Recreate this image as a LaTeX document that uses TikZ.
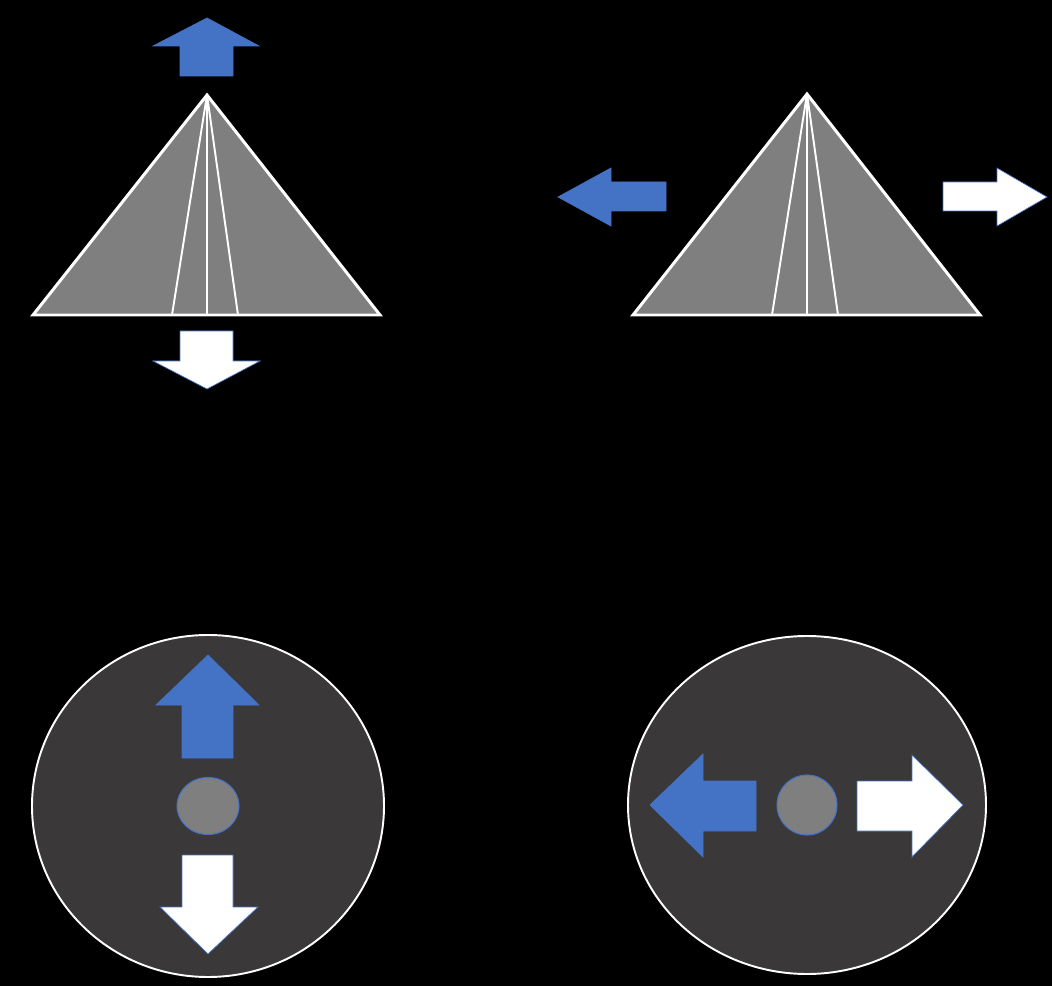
\documentclass[tikz,border=0pt]{standalone}
\usepackage{tikz}
\usepackage{xcolor}
\usetikzlibrary{positioning, calc}
\definecolor{officeblue}{HTML}{4472C4}
\definecolor{midgray}{HTML}{7F7F7F}
\definecolor{darkdisc}{HTML}{3A3838}
\tikzstyle{pyramid} = [draw=white, fill=midgray, line width=1.7pt, line join=miter]
\tikzstyle{ridge} = [draw=white, line width=1.1pt]
\tikzstyle{bluearrow} = [fill=officeblue, draw=officeblue, line width=0.4pt]
\tikzstyle{whitearrow} = [fill=white, draw=officeblue, line width=0.4pt]
\tikzstyle{disc} = [draw=white, fill=darkdisc, line width=1.1pt]
\tikzstyle{hub} = [draw=officeblue, fill=midgray, line width=0.6pt]

\begin{document}
\begin{tikzpicture}[x=0.02cm, y=-0.02cm]
    \useasboundingbox (0,0) rectangle (1052,986);
    \fill[black] (0,0) rectangle (1052,986);

    % pyramid, up/down
    \coordinate (apexA) at (207,95);
    \draw[pyramid] (apexA) -- (380,315) -- (33,315) -- cycle;
    \draw[ridge] (apexA) -- (172,315);
    \draw[ridge] (apexA) -- (207,315);
    \draw[ridge] (apexA) -- (238,315);
    \draw[bluearrow] (207,18) -- (259,46) -- (233,46) -- (233,76) -- (180,76) -- (180,46) -- (153,46) -- cycle;
    \draw[whitearrow] (180,331) -- (233,331) -- (233,361) -- (260,361) -- (207,389) -- (153,361) -- (180,361) -- cycle;

    % pyramid, left/right
    \coordinate (apexB) at (807,94);
    \draw[pyramid] (apexB) -- (980,315) -- (633,315) -- cycle;
    \draw[ridge] (apexB) -- (772,315);
    \draw[ridge] (apexB) -- (807,315);
    \draw[ridge] (apexB) -- (838,315);
    \draw[bluearrow] (558,197) -- (611,168) -- (611,182) -- (666,182) -- (666,211) -- (611,211) -- (611,226) -- cycle;
    \draw[whitearrow] (1047,197) -- (997,168) -- (997,182) -- (943,182) -- (943,211) -- (997,211) -- (997,226) -- cycle;

    % disc, up/down
    \draw[disc] (208,806) ellipse [x radius=176, y radius=171];
    \draw[hub] (208,806) ellipse [x radius=31, y radius=28.5];
    \draw[bluearrow] (208,655) -- (259,705) -- (233,705) -- (233,758) -- (182,758) -- (182,705) -- (156,705) -- cycle;
    \draw[whitearrow] (182,855) -- (233,855) -- (233,907) -- (258,907) -- (208,954) -- (160,907) -- (182,907) -- cycle;

    % disc, left/right
    \draw[disc] (807,805) ellipse [x radius=179, y radius=169];
    \draw[hub] (807,805) circle [radius=30];
    \draw[bluearrow] (650,805) -- (703,754) -- (703,781) -- (756,781) -- (756,831) -- (703,831) -- (703,857) -- cycle;
    \draw[whitearrow] (963,805) -- (912,755) -- (912,781) -- (857,781) -- (857,831) -- (912,831) -- (912,857) -- cycle;
\end{tikzpicture}
\end{document}
